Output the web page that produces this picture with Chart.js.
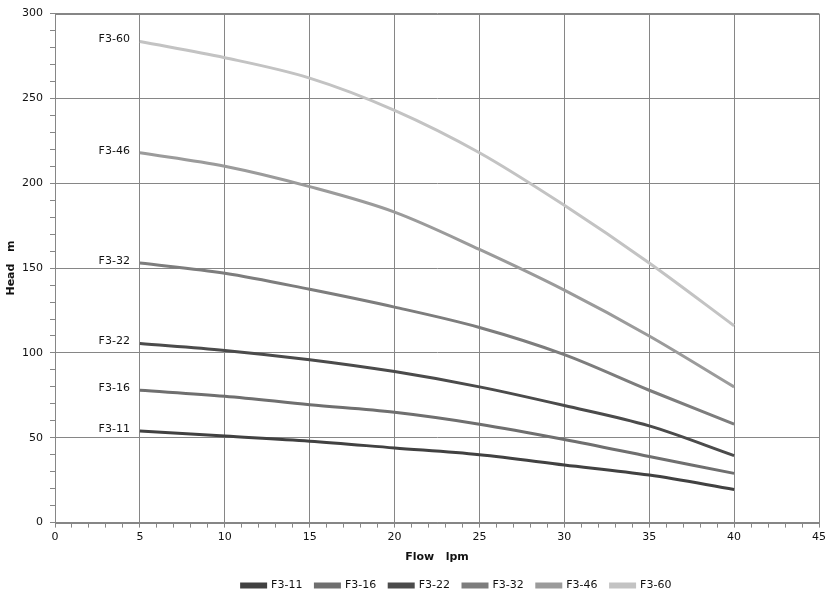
<!DOCTYPE html>
<html>
<head>
<meta charset="utf-8">
<script src="https://cdn.jsdelivr.net/npm/chart.js@4/dist/chart.umd.min.js"></script>
<style>
  html, body { margin: 0; padding: 0; background: #fff; }
  #wrap { width: 830px; height: 599px; }
</style>
</head>
<body>
<div id="wrap"><canvas id="myChart" width="830" height="599"></canvas></div>
<script>
const ctx = document.getElementById('myChart').getContext('2d');

// flow points (lpm)
const flow = [5, 10, 15, 20, 25, 30, 35, 40];

// head (m) per model
const f311 = [54, 51, 48, 44, 40, 34, 28, 19.5];
const f316 = [78, 74.5, 69.5, 65, 58, 49, 39, 29];
const f322 = [105.5, 101.5, 96, 89, 80, 69, 57, 39.5];
const f332 = [153, 147, 137.5, 127, 115, 99, 78, 58];
const f346 = [218, 210, 198, 183, 161, 137, 110, 80];
const f360 = [283.5, 274, 262, 243, 218, 187, 153, 116];

const names = ['F3-11', 'F3-16', 'F3-22', 'F3-32', 'F3-46', 'F3-60'];
const colors = ['#414141', '#6f6f6f', '#4b4b4b', '#7d7d7d', '#9b9b9b', '#c3c3c3'];
const series = [f311, f316, f322, f332, f346, f360];

const FONT = "'DejaVu Sans', Verdana, sans-serif";

//Series name next to the first point
const seriesLabels = {
    id: 'seriesLabels',
    afterDatasetsDraw: chart => {
        const c = chart.ctx;
        c.save();
        c.font = '11px ' + FONT;
        c.fillStyle = '#111';
        c.textAlign = 'right';
        c.textBaseline = 'middle';
        chart.data.datasets.forEach((ds, i) => {
            const p = chart.getDatasetMeta(i).data[0];
            c.fillText(ds.label, p.x - 10, p.y - 2);
        });
        c.restore();
    }
};

//Border round the plot area
const plotBorder = {
    id: 'plotBorder',
    beforeDatasetsDraw: chart => {
        const a = chart.chartArea;
        const c = chart.ctx;
        c.save();
        c.strokeStyle = '#868686';
        c.lineWidth = 1;
        c.strokeRect(Math.round(a.left) + 0.5, Math.round(a.top) + 0.5,
            Math.round(a.right - a.left), Math.round(a.bottom - a.top));
        c.restore();
    }
};

//legend sits a bit right and lower, like the excel one
const legendShift = {
    id: 'legendShift',
    afterLayout: chart => {
        const lg = chart.legend;
        lg.left += 47; lg.right += 47;
        lg.top += 3; lg.bottom += 3;
    }
};

const data = {
    datasets: series.map((s, i) => ({
        label: names[i],
        data: flow.map((x, j) => ({x: x, y: s[j]})),
        borderColor: colors[i],
        backgroundColor: colors[i],
        borderWidth: 3,
        pointRadius: 0,
        cubicInterpolationMode: 'monotone',
        fill: false
    }))
};

const config = {
    type: 'line',
    data: data,
    options: {
        responsive: false,
        animation: false,
        layout: {
            padding: {top: 12, right: 11, left: 0, bottom: 1}
        },
        scales: {
            x: {
                type: 'linear',
                min: 0,
                max: 45,
                ticks: {
                    stepSize: 1,
                    autoSkip: false,
                    maxRotation: 0,
                    color: '#111',
                    padding: 3,
                    font: {family: FONT, size: 11},
                    callback: v => (v % 5 === 0 ? v : '')
                },
                grid: {
                    color: c => (c.tick && c.tick.value % 5 === 0 ? '#868686' : 'rgba(0,0,0,0)'),
                    tickColor: '#868686',
                    tickLength: 5
                },
                border: {color: '#868686'},
                title: {
                    display: true,
                    text: 'Flow   lpm',
                    color: '#111',
                    padding: {top: 4, bottom: 0},
                    font: {family: FONT, size: 11, weight: 'bold'}
                }
            },
            y: {
                min: 0,
                max: 300,
                ticks: {
                    stepSize: 10,
                    autoSkip: false,
                    color: '#111',
                    padding: 7,
                    font: {family: FONT, size: 11},
                    callback: v => (v % 50 === 0 ? v : '')
                },
                grid: {
                    color: c => (c.tick && c.tick.value % 50 === 0 ? '#868686' : 'rgba(0,0,0,0)'),
                    tickColor: '#868686',
                    tickLength: 5
                },
                border: {color: '#868686'},
                title: {
                    display: true,
                    text: 'Head   m',
                    color: '#111',
                    padding: {top: 5, bottom: 2},
                    font: {family: FONT, size: 11, weight: 'bold'}
                },
                afterFit: scale => { scale.width = 55; }
            }
        },
        plugins: {
            legend: {
                position: 'bottom',
                labels: {
                    boxWidth: 24,
                    boxHeight: 3,
                    padding: 13,
                    color: '#111',
                    font: {family: FONT, size: 11}
                }
            },
            tooltip: {enabled: false}
        }
    },
    plugins: [plotBorder, seriesLabels, legendShift]
};

const myChart = new Chart(ctx, config);
</script>
</body>
</html>
